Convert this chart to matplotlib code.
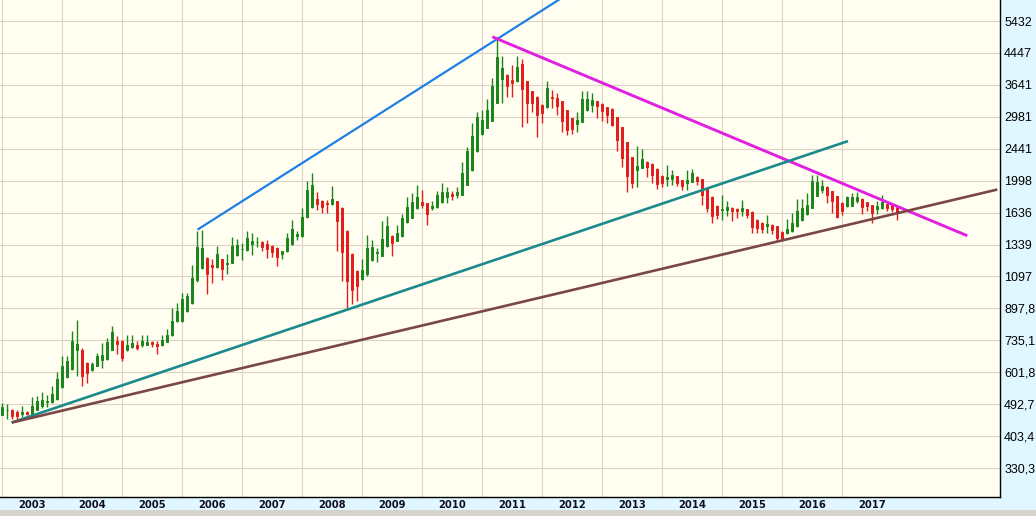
import matplotlib
matplotlib.use("Agg")
import matplotlib.pyplot as plt
from matplotlib.patches import Rectangle
from matplotlib.ticker import NullLocator, FixedLocator, NullFormatter
import numpy as np

# ---- data: monthly candles, month index 0 = first month of 2003 ----
opens = [461,474,476,468,462,468,458,476,486,499,499,508,
         547,584,613,690,693,637,610,627,650,655,693,733,
         730,690,703,715,712,715,727,717,713,729,760,830,
         830,885,930,1070,1155,1230,1175,1163,1220,1185,1195,1255,
         1300,1295,1340,1358,1362,1345,1330,1310,1262,1282,1340,1410,
         1410,1590,1690,1780,1755,1740,1730,1755,1680,1460,1260,1135,
         1080,1110,1215,1270,1250,1325,1415,1373,1410,1540,1585,1680,
         1745,1735,1680,1690,1745,1800,1840,1830,1830,1948,2130,2400,
         2670,2780,2910,3260,3780,3880,3750,3720,4160,3730,3500,3380,
         3212,3160,3370,3360,3290,3110,2950,2845,2885,3110,3212,3290,
         3230,3160,3130,2975,2790,2545,2315,2135,2165,2245,2220,2150,
         2055,2015,2023,2055,2005,1970,1985,2045,2015,1910,1805,1710,
         1665,1660,1685,1675,1650,1668,1645,1565,1530,1505,1517,1500,
         1453,1436,1455,1500,1560,1620,1685,1815,1890,1925,1870,1815,
         1740,1700,1705,1760,1785,1745,1715,1670,1680,1725,1720,1695]
highs = [495,493,478,476,488,471,515,520,533,523,553,601,
         666,668,778,833,700,640,640,680,722,748,803,756,
         735,758,762,733,758,758,733,730,758,790,900,930,
         990,990,1175,1460,1470,1240,1220,1325,1225,1265,1400,1385,
         1350,1460,1435,1405,1370,1380,1335,1315,1290,1440,1560,1460,
         1680,1990,2090,1860,1765,1770,1935,1760,1690,1470,1270,1140,
         1220,1425,1380,1310,1555,1600,1420,1517,1620,1805,1855,1948,
         1890,1740,1755,1870,1970,1925,1870,1925,2240,2470,2860,3080,
         3120,3340,3790,4920,4360,3900,4125,4360,4270,3740,3510,3390,
         3220,3730,3530,3450,3300,3120,2960,3080,3500,3500,3450,3300,
         3240,3170,3140,2980,2800,2550,2320,2490,2435,2260,2230,2160,
         2065,2210,2140,2060,2010,2130,2150,2055,2020,1915,1810,1715,
         1830,1763,1690,1680,1770,1672,1650,1570,1540,1610,1520,1505,
         1458,1575,1632,1780,1780,1850,2070,2070,2005,1930,1875,1820,
         1745,1810,1850,1860,1790,1750,1720,1760,1830,1730,1725,1700]
lows = [459,449,449,449,454,460,456,474,480,483,495,505,
        545,580,610,589,553,563,605,625,616,650,690,673,
        645,688,700,693,703,713,705,675,710,725,755,825,
        825,880,925,1060,1150,980,1055,1155,1075,1115,1190,1245,
        1218,1290,1255,1320,1285,1230,1240,1170,1220,1278,1335,1380,
        1405,1580,1680,1665,1630,1630,1720,1290,1065,890,920,940,
        1070,1100,1210,1200,1245,1320,1245,1365,1400,1535,1580,1675,
        1680,1515,1665,1680,1740,1740,1765,1790,1825,1940,2125,2395,
        2660,2775,2900,3250,3240,3380,3380,3710,2800,2860,3080,2625,
        2870,3150,3140,3020,2710,2660,2680,2710,2880,3100,3080,2960,
        2910,2860,2820,2410,2170,1860,1910,1925,2160,2050,1975,1900,
        1925,1930,1940,1935,1880,1890,1980,1948,1719,1638,1535,1570,
        1565,1600,1550,1580,1605,1580,1440,1440,1440,1435,1428,1365,
        1365,1430,1450,1495,1555,1615,1680,1810,1850,1740,1632,1580,
        1610,1690,1700,1740,1625,1650,1535,1620,1675,1650,1640,1560]
closes = [483,476,457,458,470,463,486,503,505,501,526,575,
          626,646,732,720,589,598,633,666,670,725,776,717,
          657,712,722,700,730,727,717,708,736,761,830,885,
          950,970,1083,1320,1310,1110,1160,1265,1150,1195,1325,1333,
          1305,1398,1373,1362,1320,1300,1280,1238,1288,1395,1480,1430,
          1595,1880,1945,1725,1690,1725,1780,1550,1275,1065,1005,1035,
          1145,1310,1315,1275,1385,1500,1350,1440,1582,1695,1750,1800,
          1720,1620,1710,1830,1860,1860,1820,1865,2090,2400,2650,2980,
          2920,3110,3620,4330,4040,3620,3690,4080,3540,3260,3260,3020,
          3050,3560,3350,3180,2910,2750,2765,2930,3335,3335,3310,3180,
          3100,3020,2835,2585,2310,2060,1975,2195,2290,2180,2070,1955,
          1975,2050,2070,1965,1935,2005,2095,1990,1830,1680,1605,1615,
          1672,1695,1650,1650,1680,1615,1495,1485,1475,1525,1470,1395,
          1380,1480,1530,1650,1685,1720,1990,1980,1935,1830,1755,1590,
          1650,1800,1805,1805,1690,1705,1633,1705,1745,1680,1675,1633]

years = list(range(2003, 2018))
y_ticks = [330.3, 403.4, 492.7, 601.8, 735.1, 897.8, 1097, 1339, 1636,
           1998, 2441, 2981, 3641, 4447, 5432]
y_tick_labels = ["330,3", "403,4", "492,7", "601,8", "735,1", "897,8", "1097",
                 "1339", "1636", "1998", "2441", "2981", "3641", "4447", "5432"]

# trend lines: (month index, price) endpoints
blue_line = ([39.1, 120.0], [1470, 7370])
magenta_line = ([98.06, 193.06], [4920, 1415])
teal_line = ([1.94, 169.2], [439, 2560])
brown_line = ([1.94, 199.06], [439, 1890])

# ---- figure ----
W, H = 1036, 516
fig = plt.figure(figsize=(W / 100, H / 100), dpi=100, facecolor="#E1F7FF")
ax = fig.add_axes([0, 19 / H, 1000 / W, 497 / H])
ax.set_facecolor("#FFFEF0")
ax.set_yscale("log")
ax.set_ylim(275.4, 6196)
ax.set_xlim(-0.4, 199.6)

# grid
ax.yaxis.set_major_locator(FixedLocator(y_ticks))
ax.yaxis.set_minor_locator(NullLocator())
ax.set_yticklabels(y_tick_labels)
ax.yaxis.tick_right()
ax.tick_params(axis="y", length=0, pad=3, labelsize=9, labelcolor="black")
for lab in ax.get_yticklabels():
    lab.set_fontfamily("Liberation Sans")

year_starts = [12 * (y - 2003) for y in years]
year_mids = [12 * (y - 2003) + 6 for y in years]
ax.xaxis.set_major_locator(FixedLocator(year_starts))
ax.xaxis.set_major_formatter(NullFormatter())
ax.xaxis.set_minor_locator(FixedLocator(year_mids))
ax.set_xticklabels([str(y) for y in years], minor=True)
ax.tick_params(axis="x", which="both", length=0)
ax.tick_params(axis="x", which="minor", pad=2, labelsize=7.2, labelcolor="#101020")
for lab in ax.get_xticklabels(minor=True):
    lab.set_fontweight("bold")
ax.grid(True, which="major", color="#DCD3C4", linewidth=0.8)
ax.set_axisbelow(True)

for s in ["left", "top"]:
    ax.spines[s].set_visible(False)
for s in ["bottom", "right"]:
    ax.spines[s].set_color("black")
    ax.spines[s].set_linewidth(1.0)

# candles
x = np.arange(len(closes))
o = np.array(opens, float)
c = np.array(closes, float)
h = np.array(highs, float)
l = np.array(lows, float)
up = c >= o
green = "#1A861A"
red = "#E41B1B"
cols = np.where(up, green, red)
ax.vlines(x, l, h, colors=cols, linewidth=1.0, zorder=3)
bottoms = np.minimum(o, c)
heights = np.abs(c - o)
ax.bar(x, heights, width=0.55, bottom=bottoms, color=cols, edgecolor=cols,
       linewidth=0.7, zorder=4)

# trend lines
ax.plot(*blue_line, color="#1E80E4", linewidth=1.6, zorder=5, solid_capstyle="butt")
ax.plot(*magenta_line, color="#E020E0", linewidth=2.1, zorder=5, solid_capstyle="butt")
ax.plot(*teal_line, color="#1A8A8C", linewidth=1.9, zorder=5, solid_capstyle="butt")
ax.plot(*brown_line, color="#7A4646", linewidth=1.9, zorder=5, solid_capstyle="butt")

# bottom scroll-bar strip
fig.patches.append(Rectangle((0, 0), 1, 6 / H, transform=fig.transFigure,
                             facecolor="#D6D3CE", edgecolor="none", zorder=0))

fig.savefig("out.png", dpi=100, facecolor=fig.get_facecolor())
